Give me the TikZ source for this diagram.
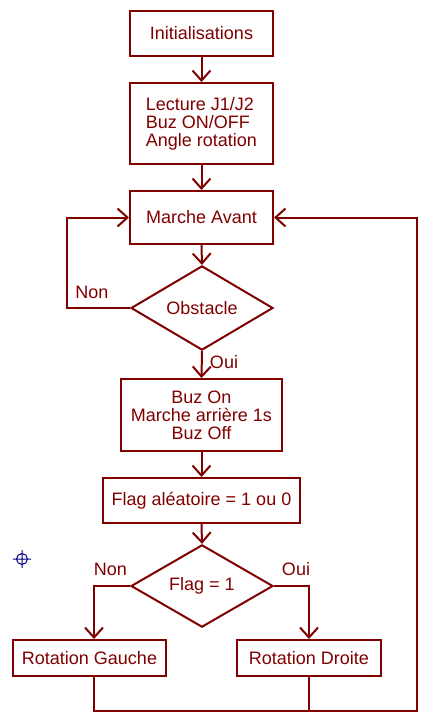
\documentclass[tikz,border=0pt]{standalone}
\usepackage{fontspec}
\setmainfont{Liberation Sans}
\usetikzlibrary{shapes.geometric,arrows.meta}
\definecolor{fc}{HTML}{800000}
\definecolor{mk}{HTML}{000080}
\begin{document}
\begin{tikzpicture}[x=1pt,y=-1pt,
  every node/.style={font=\fontsize{18}{18}\selectfont, text=fc},
  box/.style={draw=fc, line width=2pt, inner sep=0pt, rectangle},
  dec/.style={draw=fc, line width=2pt, inner sep=0pt, diamond, minimum width=142pt, minimum height=71pt},
  lbl/.style={inner sep=0pt},
  wire/.style={draw=fc, line width=2pt, line join=miter},
  arr/.style={wire, -{Straight Barb[length=10pt,width=18pt]}}]
\useasboundingbox (0,0) rectangle (436,724);
\node[box, minimum width=143pt, minimum height=45pt] (init) at (201.5,33.5) {Initialisations};
\node[box, minimum width=143pt, minimum height=81pt, align=left] (lect) at (201.5,123.5) {Lecture J1/J2\\Buz ON/OFF\\Angle rotation};
\node[box, minimum width=143pt, minimum height=53pt] (marche) at (201.5,217.5) {Marche Avant};
\node[dec] (obst) at (202,308) {Obstacle};
\node[box, minimum width=161pt, minimum height=72pt, align=center] (buz) at (201.5,415) {Buz On\\Marche arrière 1s\\Buz Off};
\node[box, minimum width=197pt, minimum height=45pt] (flaga) at (201.5,500.5) {Flag aléatoire = 1 ou 0};
\node[dec, minimum height=72pt] (flagb) at (202,586) {Flag = 1};
\node[box, minimum width=153pt, minimum height=36pt] (rotg) at (89.5,658) {Rotation Gauche};
\node[box, minimum width=144pt, minimum height=36pt] (rotd) at (309,658) {Rotation Droite};
\node[lbl] (non1) at (92,292) {Non};
\node[lbl] (oui1) at (224,362) {Oui};
\node[lbl] (non2) at (110.5,569) {Non};
\node[lbl] (oui2) at (296,569) {Oui};
\coordinate (lx) at (67,308);
\coordinate (gx) at (94,0);
\coordinate (bl) at (94,711);
\coordinate (br) at (417,711);
\draw[arr] (init.south) -- (lect.north);
\draw[arr] (lect.south) -- (marche.north);
\draw[arr] (marche.south) -- (obst.north);
\draw[arr] (obst.west) -- (lx) |- (marche.west);
\draw[arr] (obst.south) -- (buz.north);
\draw[arr] (buz.south) -- (flaga.north);
\draw[arr] (flaga.south) -- (flagb.north);
\draw[arr] (flagb.west) -| (gx |- rotg.north);
\draw[arr] (flagb.east) -| (rotd.north);
\draw[arr] (gx |- rotg.south) -- (bl) -- (br) |- (marche.east);
\draw[wire] (rotd.south) -- (rotd.south |- bl);
\draw[mk, line width=1pt] (22,559) circle (5.5pt) (13,559) -- (31,559) (22,550) -- (22,568);
\end{tikzpicture}
\end{document}
